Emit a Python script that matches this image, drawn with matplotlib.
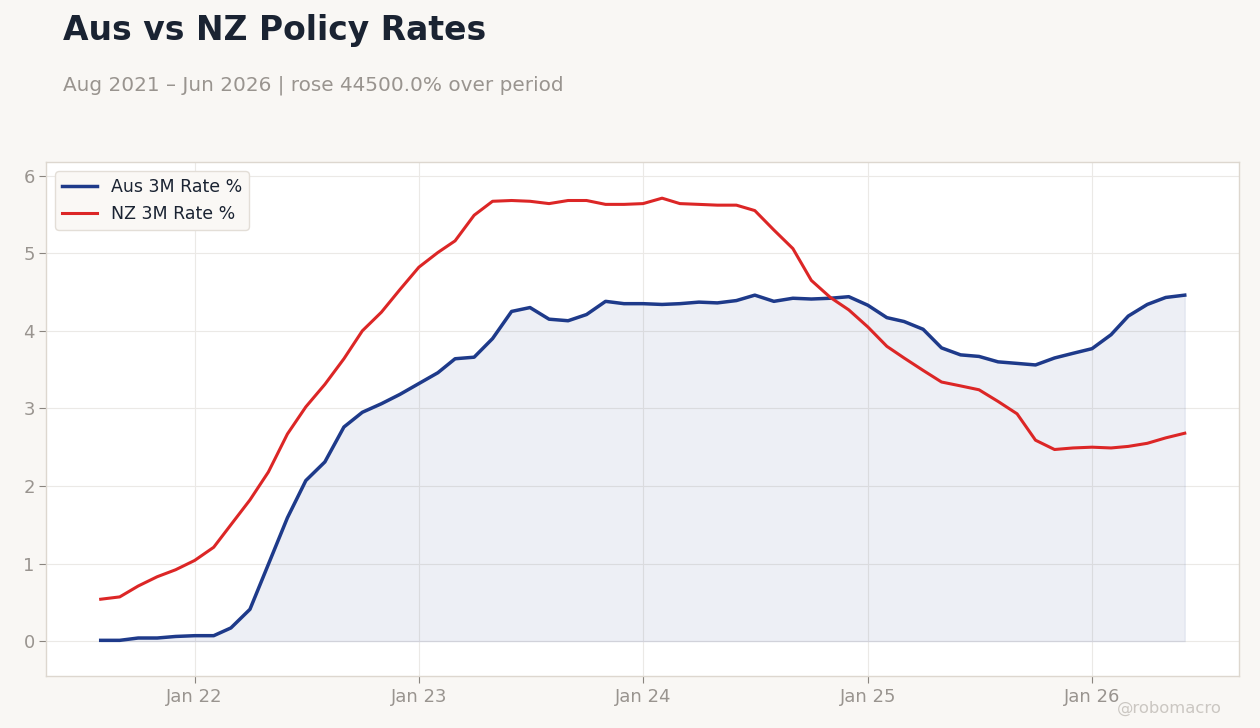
import matplotlib
matplotlib.use("Agg")
import matplotlib.pyplot as plt
import matplotlib.dates as mdates
import pandas as pd

# monthly observations, Aug 2021 - Jun 2026
dates = pd.date_range("2021-08-01", "2026-06-01", freq="MS")

aus_rate = [
    0.01, 0.01, 0.04, 0.04, 0.06,
    0.07, 0.07, 0.17, 0.41, 0.99, 1.59, 2.07, 2.31, 2.76, 2.95, 3.06, 3.18,
    3.32, 3.46, 3.64, 3.66, 3.90, 4.25, 4.30, 4.15, 4.13, 4.21, 4.38, 4.35,
    4.35, 4.34, 4.35, 4.37, 4.36, 4.39, 4.46, 4.38, 4.42, 4.41, 4.42, 4.44,
    4.33, 4.17, 4.12, 4.02, 3.78, 3.69, 3.67, 3.60, 3.58, 3.56, 3.65, 3.71,
    3.77, 3.95, 4.19, 4.34, 4.43, 4.46,
]
nz_rate = [
    0.54, 0.57, 0.71, 0.83, 0.92,
    1.04, 1.21, 1.50, 1.82, 2.18, 2.67, 3.02, 3.31, 3.64, 4.00, 4.24, 4.53,
    4.82, 5.01, 5.16, 5.49, 5.67, 5.68, 5.67, 5.64, 5.68, 5.68, 5.63, 5.63,
    5.64, 5.71, 5.64, 5.63, 5.62, 5.62, 5.55, 5.30, 5.06, 4.65, 4.43, 4.27,
    4.05, 3.80, 3.65, 3.49, 3.34, 3.29, 3.24, 3.09, 2.93, 2.59, 2.47, 2.49,
    2.50, 2.49, 2.51, 2.55, 2.62, 2.68,
]

AUS_COLOR = "#1e3a8a"
NZ_COLOR = "#dc2626"
BG = "#f9f7f4"
MUTED = "#99948f"

fig = plt.figure(figsize=(12.6, 7.28), dpi=100, facecolor=BG)
ax = fig.add_axes([0.0369, 0.0714, 0.9464, 0.7054])
ax.set_facecolor("white")

ax.fill_between(dates, aus_rate, 0, color=AUS_COLOR, alpha=0.08, linewidth=1)
ax.plot(dates, aus_rate, color=AUS_COLOR, linewidth=2.5, label="Aus 3M Rate %")
ax.plot(dates, nz_rate, color=NZ_COLOR, linewidth=2.2, label="NZ 3M Rate %")

ax.set_ylim(-0.45, 6.17)
ax.xaxis.set_major_locator(mdates.YearLocator())
ax.xaxis.set_major_formatter(mdates.DateFormatter("Jan %y"))

ax.grid(True, color="#ebe9e6", linewidth=0.8)
ax.set_axisbelow(True)
for spine in ax.spines.values():
    spine.set_color("#ddd7cf")
    spine.set_linewidth(1.0)
ax.tick_params(colors="#8a857f", labelsize=13, length=5, width=0.8, labelcolor=MUTED)

leg = ax.legend(loc="upper left", fontsize=12.5, frameon=True, facecolor="#faf8f5",
                edgecolor="#e3ded7", framealpha=1.0, handlelength=2.0)
for txt in leg.get_texts():
    txt.set_color("#1a2332")

fig.text(0.05, 0.981, "Aus vs NZ Policy Rates", fontsize=23.8, fontweight="bold",
         color="#1a2332", va="top")
fig.text(0.05, 0.896, "Aug 2021 \u2013 Jun 2026 | rose 44500.0% over period",
         fontsize=14.4, color=MUTED, va="top")
fig.text(0.97, 0.017, "@robomacro", fontsize=11.8, color="#cbc7c2", ha="right", va="bottom")

fig.savefig("out.png", dpi=100, facecolor=BG)
